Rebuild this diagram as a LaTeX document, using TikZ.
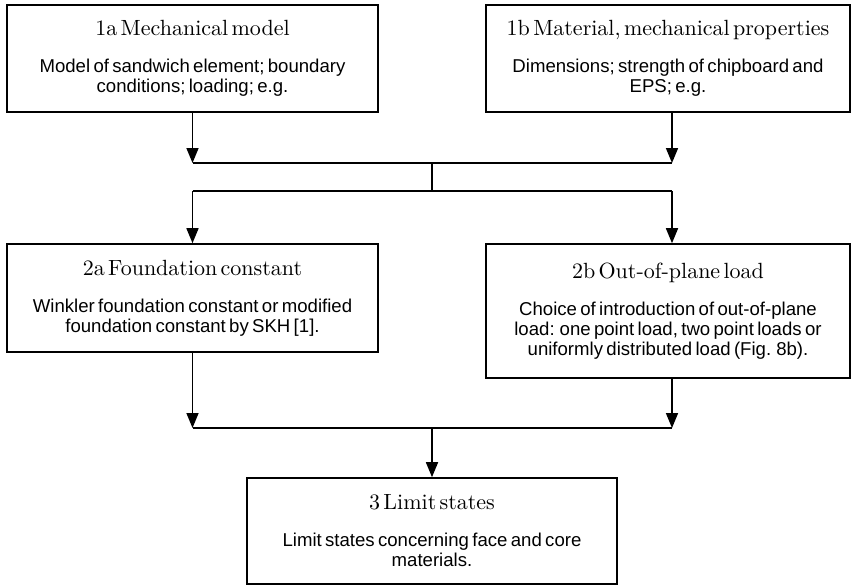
\documentclass[tikz,border=0pt]{standalone}
\usepackage{fontspec}
\newfontfamily\bodyf{Liberation Sans}
\newfontfamily\ttlfam{lmroman10-regular.otf}
\usetikzlibrary{arrows.meta}
\begin{document}
\begin{tikzpicture}[x=1pt,y=1pt,
  box/.style={draw, line width=1.6pt, inner sep=0pt, align=center, text width=#1-6pt, minimum width=#1},
  arr/.style={line width=1.6pt, -{Triangle[width=12pt,length=15pt]}},
  bus/.style={line width=1.6pt}]
\newcommand{\ttlf}{\ttlfam\fontsize{22}{25}\selectfont}
\newcommand{\bdyf}{\bodyf\fontsize{18.6}{20}\selectfont}
\useasboundingbox (0,0) rectangle (851,-586);
% boxes
\node[box=371pt, minimum height=107pt] (a1) at (192.5,-58.5)
  {{\ttlf 1a Mechanical model\par}\vspace{17pt}{\bdyf Model of sandwich element; boundary\\ conditions; loading; e.g.\par}};
\node[box=364pt, minimum height=107pt] (b1) at (668,-58.5)
  {{\ttlf 1b Material, mechanical properties\par}\vspace{17pt}{\bdyf Dimensions; strength of chipboard and\\ EPS; e.g.\par}};
\node[box=371pt, minimum height=108pt] (a2) at (192.5,-298)
  {{\ttlf 2a Foundation constant\par}\vspace{17pt}{\bdyf Winkler foundation constant or modified\\ foundation constant by SKH [1].\par}};
\node[box=364pt, minimum height=134pt] (b2) at (668,-311)
  {{\ttlf 2b Out-of-plane load\par}\vspace{17pt}{\bdyf Choice of introduction of out-of-plane\\ load: one point load, two point loads or\\ uniformly distributed load (Fig. 8b).\par}};
\node[box=370pt, minimum height=106pt] (c3) at (432,-531)
  {{\ttlf 3 Limit states\par}\vspace{17pt}{\bdyf Limit states concerning face and core\\ materials.\par}};
% junctions
\coordinate (jL1) at (192.5,-163);
\coordinate (jR1) at (672,-163);
\coordinate (jM1) at (432,-163);
\coordinate (jM2) at (432,-191);
\coordinate (jL2) at (192.5,-191);
\coordinate (jR2) at (672,-191);
\coordinate (jL3) at (192.5,-428);
\coordinate (jR3) at (672,-428);
\coordinate (jM3) at (432,-428);
% connectors
\draw[arr] (a1.south) -- (jL1);
\draw[arr] (b1.south -| jR1) -- (jR1);
\draw[bus] (jL1) -- (jR1);
\draw[bus] (jM1) -- (jM2);
\draw[bus] (jL2) -- (jR2);
\draw[arr] (jL2) -- (a2.north);
\draw[arr] (jR2) -- (jR2 |- b2.north);
\draw[arr] (a2.south) -- (jL3);
\draw[arr] (b2.south -| jR3) -- (jR3);
\draw[bus] (jL3) -- (jR3);
\draw[arr] (jM3) -- (c3.north);
\end{tikzpicture}
\end{document}
